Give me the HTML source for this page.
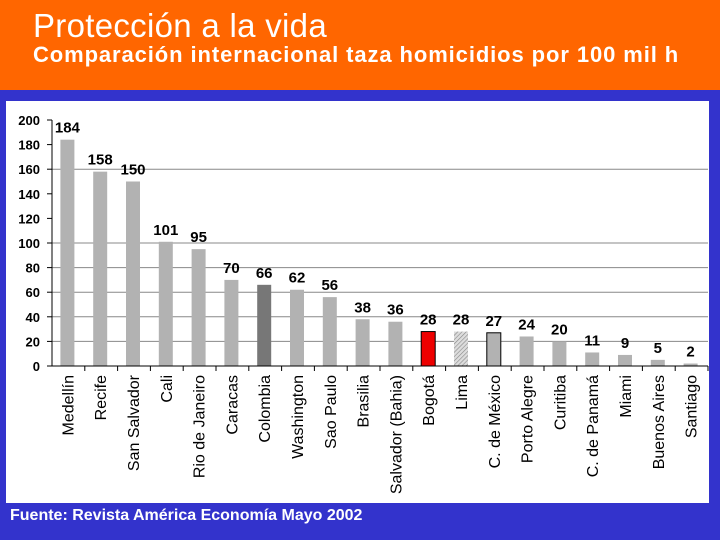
<!DOCTYPE html>
<html><head><meta charset="utf-8"><style>
body{margin:0;width:720px;height:540px;overflow:hidden;background:#3333cc;font-family:"Liberation Sans",sans-serif}
#hdr{position:absolute;left:0;top:0;width:720px;height:90px;background:#ff6600}
.t1{position:absolute;left:33px;top:7px;font-size:33px;color:#fff;letter-spacing:0.3px}
.t2{position:absolute;left:33px;top:42px;font-size:22px;font-weight:bold;color:#fff;letter-spacing:0.9px}
#panel{position:absolute;left:6px;top:101px;width:703px;height:402px;background:#fff}
#src{position:absolute;left:10px;top:507px;font-size:16px;font-weight:bold;color:#fff;letter-spacing:0px}
svg{position:absolute;left:0;top:0}
</style></head><body>
<div id="hdr">
<div class="t1">Protección a la vida</div>
<div class="t2">Comparación internacional taza homicidios por 100 mil h</div>
</div>
<div id="panel"></div>
<div id="src">Fuente: Revista América Economía Mayo 2002</div>
<svg id="chart" width="720" height="540">
<defs><pattern id="hatch" width="3" height="3" patternUnits="userSpaceOnUse" patternTransform="rotate(45)"><rect width="3" height="3" fill="#ddd"/><line x1="0" y1="0" x2="0" y2="3" stroke="#888" stroke-width="1.2"/></pattern></defs>
</svg>
<script>
const categories=["Medellín","Recife","San Salvador","Cali","Rio de Janeiro","Caracas","Colombia","Washington","Sao Paulo","Brasilia","Salvador (Bahia)","Bogotá","Lima","C. de México","Porto Alegre","Curitiba","C. de Panamá","Miami","Buenos Aires","Santiago"];
const values=[184,158,150,101,95,70,66,62,56,38,36,28,28,27,24,20,11,9,5,2];
const yTicks=[0,20,40,60,80,100,120,140,160,180,200];
const gridVals=[20,40,60,80,100,160];
const x0=52,x1=708,yZero=366,yTop=120;
const n=categories.length,cw=(x1-x0)/n;
const y=v=>yZero-(v/200)*(yZero-yTop);
const xc=i=>x0+cw*(i+0.5)-1;
const svg=document.getElementById('chart');
const NS='http://www.w3.org/2000/svg';
function mk(t,a){const e=document.createElementNS(NS,t);for(const k in a)e.setAttribute(k,a[k]);svg.appendChild(e);return e;}
gridVals.forEach(v=>{const l=mk('line',{x1:x0,x2:x1,y1:y(v),y2:y(v),stroke:'#888','stroke-width':1});

});
yTicks.forEach(v=>{const t=mk('text',{x:40,y:y(v)+5,'text-anchor':'end','font-size':13,'font-weight':'bold','font-family':'Liberation Sans, sans-serif'});t.textContent=v;


const tk=mk('line',{x1:x0-5,x2:x0,y1:y(v),y2:y(v),stroke:'#000'});

});
const fills={6:'#777',11:'#ee0000',12:'url(#hatch)'};
values.forEach((v,i)=>{const bw=14;const r=mk('rect',{x:xc(i)-bw/2,y:y(v),width:bw,height:yZero-y(v),fill:fills[i]||'#b2b2b2'});
if(i===11||i===13){r.setAttribute('stroke','#000');r.setAttribute('stroke-width','1');}


const t=mk('text',{x:xc(i),y:y(v)-7,'text-anchor':'middle','font-size':15,'font-weight':'bold','font-family':'Liberation Sans, sans-serif'});t.textContent=v;


const c=mk('text',{transform:`translate(${xc(i)+6},375) rotate(-90)`,'text-anchor':'end','font-size':16,'font-family':'Liberation Sans, sans-serif'});c.textContent=categories[i];


const tk=mk('line',{x1:x0+cw*(i+1),x2:x0+cw*(i+1),y1:yZero,y2:yZero+5,stroke:'#000'});

});
const ax=mk('line',{x1:x0,x2:x0,y1:yTop,y2:yZero,stroke:'#000'});


const bx=mk('line',{x1:x0-5,x2:x1,y1:yZero,y2:yZero,stroke:'#000'});


</script>
</body></html>
